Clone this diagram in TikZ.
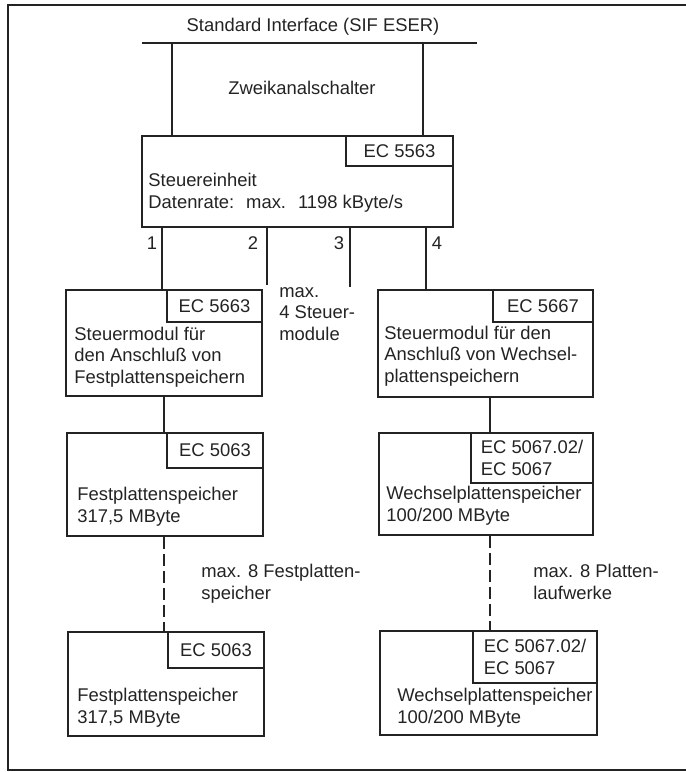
\documentclass[tikz,border=0pt]{standalone}
\usepackage{fontspec}
\setmainfont{Liberation Sans}
\definecolor{ink}{RGB}{35,35,35}

\begin{document}
\begin{tikzpicture}[x=0.5pt, y=-0.5pt, color=ink,
    font=\fontsize{9.2}{10.8}\selectfont,
    unit/.style={draw, line width=0.75pt, inner sep=0pt},
    eclabel/.style={draw, line width=0.75pt, anchor=north east, align=left, inner sep=0pt},
    txt/.style={anchor=west, align=left, inner sep=0pt},
    link/.style={line width=0.7pt},
    chain/.style={line width=0.7pt, dash pattern=on 6pt off 2.5pt}]
    \useasboundingbox (0,0) rectangle (686,772);
    \draw[line width=1pt] (686,5) -- (8,5) -- (8,770) -- (686,770);
    \draw[every node/.style={unit}]
        (297.5, 181.5) node[minimum width=155.5pt, minimum height=45.5pt] (su){}
        (164, 343) node[minimum width=98pt, minimum height=53pt] (lm){}
        (485.5, 343.5) node[minimum width=107.5pt, minimum height=53.5pt] (rm){}
        (165, 484.5) node[minimum width=98pt, minimum height=51.5pt] (lp1){}
        (486, 484) node[minimum width=107pt, minimum height=51pt] (rp1){}
        (166, 684) node[minimum width=98pt, minimum height=52pt] (lp2){}
        (488.5, 683) node[minimum width=108.5pt, minimum height=52pt] (rp2){};
    \node[eclabel, minimum width=53.5pt, minimum height=15pt] (su-ec) at (su.north east) {EC 5563};
    \node[eclabel, minimum width=47.5pt, minimum height=16pt] (lm-ec) at (lm.north east) {EC 5663};
    \node[eclabel, minimum width=50pt, minimum height=16pt] (rm-ec) at (rm.north east) {EC 5667};
    \node[eclabel, minimum width=48pt, minimum height=17.5pt] (lp1-ec) at (lp1.north east) {EC 5063};
    \node[eclabel, minimum width=61pt, minimum height=25pt] (rp1-ec) at (rp1.north east) {EC 5067.02/\\EC 5067};
    \node[eclabel, minimum width=48pt, minimum height=18pt] (lp2-ec) at (lp2.north east) {EC 5063};
    \node[eclabel, minimum width=62pt, minimum height=26pt] (rp2-ec) at (rp2.north east) {EC 5067.02/\\EC 5067};
    \node[txt] (su-t) at (148,192.5) {Steuereinheit\\Datenrate: \ max. \ 1198 kByte/s};
    \node[txt] (lm-t) at (74,357) {Steuermodul für\\den Anschluß von\\Festplattenspeichern};
    \node[txt] (rm-t) at (384,356) {Steuermodul für den\\Anschluß von Wechsel-\\plattenspeichern};
    \node[txt] (lp1-t) at (77,507) {Festplattenspeicher\\317,5 MByte};
    \node[txt] (rp1-t) at (386,506) {Wechselplattenspeicher\\100/200 MByte};
    \node[txt] (lp2-t) at (77,707.5) {Festplattenspeicher\\317,5 MByte};
    \node[txt] (rp2-t) at (397,707.5) {Wechselplattenspeicher\\100/200 MByte};
    \node (sif) at (313,27) {Standard Interface (SIF ESER)};
    \node (zk) at (302,88) {Zweikanalschalter};
    \node (n1) at (152,243) {1};
    \node (n2) at (253,243) {2};
    \node (n3) at (339,243) {3};
    \node (n4) at (437,243) {4};
    \node[txt] (maxsm) at (279,314) {max.\\4 Steuer-\\module};
    \node[txt] (maxfp) at (201,584) {max. 8 Festplatten-\\speicher};
    \node[txt] (maxwp) at (533,582) {max. 8 Platten-\\laufwerke};
    \coordinate (busL) at (142,43);
    \coordinate (busR) at (477,43);
    \coordinate (v1) at (172,0);
    \coordinate (v2) at (423,0);
    \coordinate (k1) at (162,0);
    \coordinate (k4) at (426,0);
    \coordinate (e2) at (267,285);
    \coordinate (e3) at (350,287);
    \coordinate (d1) at (164,0);
    \coordinate (d2) at (490,0);
    \begin{scope}[link]
        \draw[line width=1.1pt] (busL) to (busR);
        \draw (busL -| v1) to (su.north -| v1);
        \draw (busL -| v2) to (su.north -| v2);
        \draw (su.south -| k1) to (lm.north -| k1);
        \draw (su.south -| e2) to (e2);
        \draw (su.south -| e3) to (e3);
        \draw (su.south -| k4) to (rm.north -| k4);
        \draw (lm.south -| d1) to (lp1.north -| d1);
        \draw (rm.south -| d2) to (rp1.north -| d2);
        \draw[chain] (lp1.south -| d1) to (lp2.north -| d1);
        \draw[chain] (rp1.south -| d2) to (rp2.north -| d2);
    \end{scope}
\end{tikzpicture}
\end{document}
